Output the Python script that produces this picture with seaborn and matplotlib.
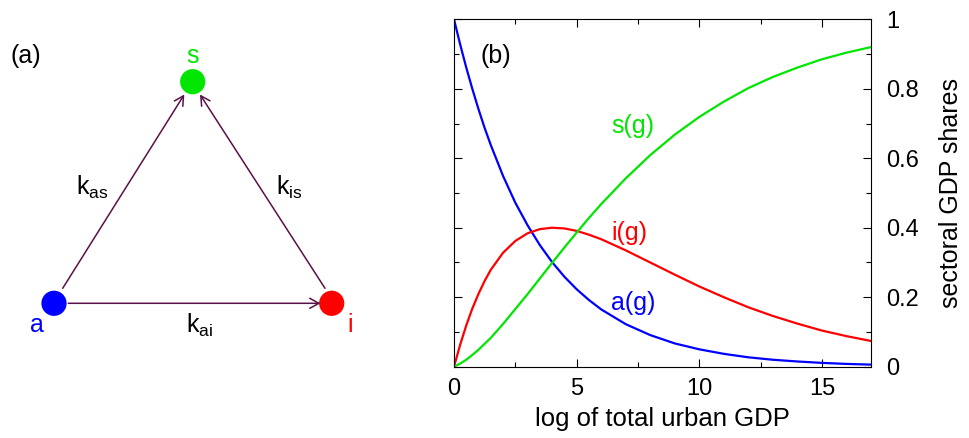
import matplotlib
matplotlib.use("Agg")
import matplotlib.pyplot as plt
import seaborn as sns
import pandas as pd
from matplotlib.ticker import MultipleLocator

# ---------------- data ----------------
g_vals = [0, 0.25, 0.5, 0.75, 1, 1.25, 1.5, 2, 2.5, 3, 3.5, 4, 4.5, 5, 5.5, 6,
          7, 8, 9, 10, 11, 12, 13, 14, 15, 16, 17]
a_vals = [1.000, 0.928, 0.861, 0.799, 0.741, 0.687, 0.638, 0.549, 0.472, 0.407, 0.350, 0.301,
          0.259, 0.223, 0.192, 0.165,
          0.1225, 0.091, 0.067, 0.050, 0.037, 0.027, 0.020, 0.015, 0.011, 0.008, 0.006]
i_vals = [0.000, 0.063, 0.119, 0.168, 0.210, 0.247, 0.279, 0.328, 0.362, 0.384, 0.396, 0.400,
          0.398, 0.391, 0.380, 0.367,
          0.335, 0.300, 0.265, 0.231, 0.200, 0.171, 0.146, 0.124, 0.104, 0.088, 0.074]
s_vals = [0.000, 0.009, 0.020, 0.034, 0.049, 0.066, 0.083, 0.123, 0.166, 0.209, 0.254, 0.299,
          0.343, 0.386, 0.428, 0.468,
          0.542, 0.609, 0.668, 0.719, 0.763, 0.802, 0.834, 0.861, 0.885, 0.904, 0.920]
series_names = ["a(g)", "i(g)", "s(g)"]
x_ticks = [0, 5, 10, 15]
y_ticks = [0, 0.2, 0.4, 0.6, 0.8, 1]
y_ticklabels = ["0", "0.2", "0.4", "0.6", "0.8", "1"]

node_names = ["a", "i", "s"]
edge_list = [("a", "s", "k$_\\mathregular{as}$"),
             ("i", "s", "k$_\\mathregular{is}$"),
             ("a", "i", "k$_\\mathregular{ai}$")]

# ---------------- styling ----------------
sns.set_theme(style="white")
plt.rcParams['font.family'] = ['Liberation Sans', 'DejaVu Sans']
plt.rcParams['mathtext.fontset'] = 'custom'
plt.rcParams['mathtext.rm'] = 'Liberation Sans'
plt.rcParams['text.color'] = 'black'
plt.rcParams['axes.labelcolor'] = 'black'
plt.rcParams['xtick.color'] = 'black'
plt.rcParams['ytick.color'] = 'black'

colors = {"a": "#0000ff", "i": "#ff0000", "s": "#00e600"}
series_colors = {"a(g)": colors["a"], "i(g)": colors["i"], "s(g)": colors["s"]}
edge_color = "#5a1048"
FS = 18

W, H = 969, 438
fig = plt.figure(figsize=(W / 100, H / 100), dpi=100)

# ---------------- panel (a): diagram in pixel coordinates ----------------
axa = fig.add_axes([0, 0, 430 / W, 1])
axa.set_xlim(0, 430)
axa.set_ylim(H, 0)
axa.axis("off")

node_pos = {"a": (54, 303.3), "i": (331.7, 303.3), "s": (192.7, 81.7)}
nodes_df = pd.DataFrame({
    "name": node_names,
    "x": [node_pos[n][0] for n in node_names],
    "y": [node_pos[n][1] for n in node_names],
})
sns.scatterplot(data=nodes_df, x="x", y="y", hue="name", palette=colors,
                s=330, linewidth=0, legend=False, ax=axa, zorder=3)
axa.set_xlabel("")
axa.set_ylabel("")

arrow_ends = {
    ("a", "s"): ((62.7, 288.3), (184.3, 94.5)),
    ("i", "s"): ((325.0, 288.3), (200.0, 94.5)),
    ("a", "i"): ((68.3, 303.3), (320.5, 303.3)),
}
label_pos = {
    ("a", "s"): (92, 195),
    ("i", "s"): (289, 195),
    ("a", "i"): (200, 333),
}
for src, dst, lab in edge_list:
    (x0, y0), (x1, y1) = arrow_ends[(src, dst)]
    axa.annotate("", xy=(x1, y1), xytext=(x0, y0),
                 arrowprops=dict(arrowstyle="->,head_length=0.55,head_width=0.3",
                                 color=edge_color, lw=1.1, shrinkA=0, shrinkB=0))
    lx, ly = label_pos[(src, dst)]
    axa.text(lx, ly, lab, ha="center", va="baseline", fontsize=FS, color="black")

node_label_pos = {"a": (36.7, 331.5), "i": (350, 331.5), "s": (192.7, 63.3)}
for n in node_names:
    lx, ly = node_label_pos[n]
    axa.text(lx, ly, n, ha="center", va="baseline", fontsize=FS, color=colors[n])

axa.text(11, 63, "(a)", ha="left", va="baseline", fontsize=FS, color="black")

# ---------------- panel (b): curves ----------------
left, right, top, bottom = 454, 871, 19.3, 366.7
axb = fig.add_axes([left / W, 1 - bottom / H, (right - left) / W, (bottom - top) / H])

df = pd.DataFrame({"g": g_vals * 3,
                   "share": a_vals + i_vals + s_vals,
                   "series": [series_names[0]] * len(g_vals)
                   + [series_names[1]] * len(g_vals)
                   + [series_names[2]] * len(g_vals)})
sns.lineplot(data=df, x="g", y="share", hue="series", palette=series_colors,
             linewidth=1.6, legend=False, ax=axb, sort=False)

axb.set_xlim(0, 17)
axb.set_ylim(0, 1)
axb.set_xticks(x_ticks)
axb.set_yticks(y_ticks)
axb.set_yticklabels(y_ticklabels)
axb.xaxis.set_minor_locator(MultipleLocator(2.5))
axb.yaxis.set_minor_locator(MultipleLocator(0.1))
axb.yaxis.tick_right()
axb.yaxis.set_label_position("right")
axb.tick_params(which="both", direction="in", top=True, bottom=True, left=True, right=True,
                color="black", width=0.8)
axb.tick_params(which="major", length=6, labelsize=17, labelcolor="black")
axb.tick_params(axis="x", which="major", pad=8)
axb.tick_params(axis="y", which="major", pad=11)
axb.tick_params(which="minor", length=3.5)
for sp in axb.spines.values():
    sp.set_visible(True)
    sp.set_color("black")
    sp.set_linewidth(0.8)

axb.set_xlabel("log of total urban GDP", fontsize=18.5, labelpad=5)
axb.set_ylabel("sectoral GDP shares", fontsize=18, labelpad=14)

axb.text(6.42, 0.672, "s(g)", color=colors["s"], fontsize=FS, ha="left", va="baseline")
axb.text(6.42, 0.364, "i(g)", color=colors["i"], fontsize=FS, ha="left", va="baseline")
axb.text(6.42, 0.164, "a(g)", color=colors["a"], fontsize=FS, ha="left", va="baseline")
axb.text(1.08, 0.874, "(b)", color="black", fontsize=FS, ha="left", va="baseline")

fig.savefig("out.png", dpi=100)
